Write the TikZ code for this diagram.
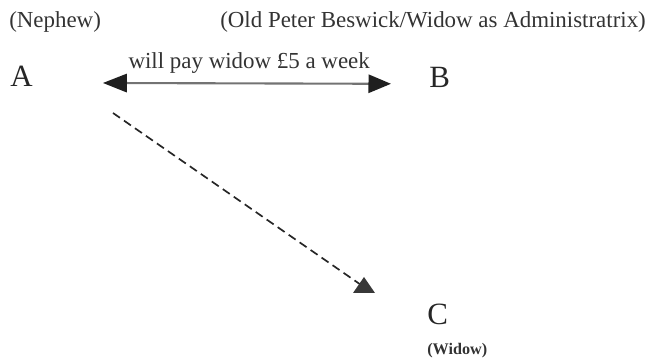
\documentclass[tikz,border=0pt]{standalone}
\usepackage{fontspec}
\setmainfont{Liberation Serif}
\usetikzlibrary{arrows.meta,calc}

\begin{document}
\begin{tikzpicture}[
    x=0.025cm, y=-0.025cm,
    >=Triangle,
    party/.style={inner sep=0pt, anchor=base west, text=black!85, font=\fontsize{22}{26}\selectfont},
    role/.style={inner sep=0pt, anchor=base west, text=black!80, font=\fontsize{16.3}{19}\selectfont},
    roleb/.style={inner sep=0pt, anchor=base west, text=black!80, font=\bfseries\fontsize{11.5}{13}\selectfont},
    promise/.style={{Triangle[length=17pt,width=13pt,color=black!88]}-{Triangle[length=16pt,width=13pt,color=black!88]}, draw=black!55, line width=1.5pt},
    claim/.style={draw=black!85, line width=1.2pt, dash pattern=on 6pt off 3.5pt},
    tipfill/.style={fill=black!78}
]
\useasboundingbox (0,0) rectangle (652,359);

% Parties and their roles
\node[role] (nephew) at (9, 28) {(Nephew)};
\node[role] (admin) at (220, 28) {(Old Peter Beswick/Widow as Administratrix)};
\node[party] (A) at (10, 87) {A};
\node[party] (B) at (429, 88) {B};
\node[party] (C) at (427, 325) {C};
\node[roleb] (widow) at (427, 355) {(Widow)};

% Promise between A and B
\draw[promise, shorten <=1.75cm, shorten >=0.95cm] ([yshift=-0.15cm]A.east) -- ([yshift=-0.15cm]B.west)
    node[pos=0.546, above=0.22cm, role, anchor=south, text=black!80] (pay) {will pay widow \pounds5 a week};

% Widow's claim on A (upright triangle head)
\coordinate (dstart) at (113, 113);
\coordinate (tri) at (364, 287);
\draw[claim] (dstart) -- (tri);
\fill[tipfill] ($(tri)+(0,-10)$) -- ($(tri)+(11,6)$) -- ($(tri)+(-11,6)$) -- cycle;

\end{tikzpicture}
\end{document}
